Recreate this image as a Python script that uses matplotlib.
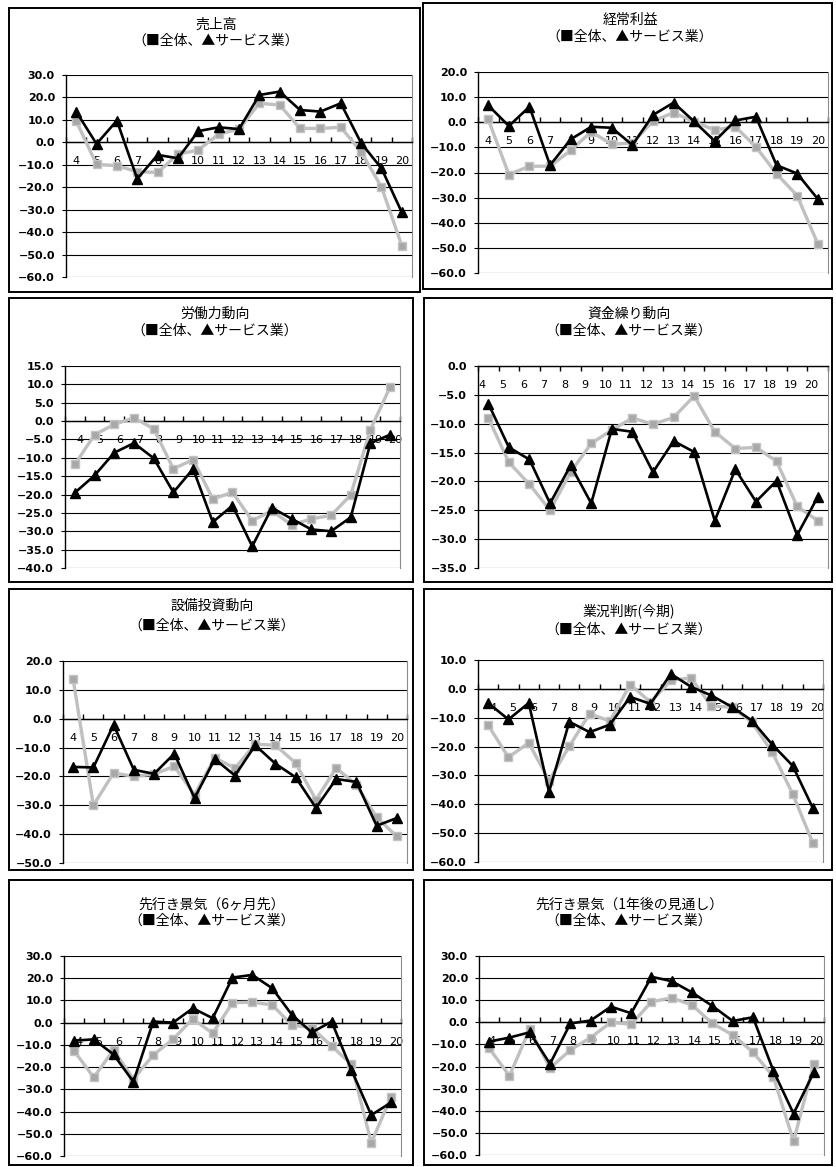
import matplotlib
matplotlib.use("Agg")
import matplotlib.pyplot as plt
import numpy as np
from matplotlib.patches import Rectangle
from matplotlib.ticker import FixedLocator, FuncFormatter

plt.rcParams["font.family"] = ["Noto Sans CJK JP", "DejaVu Sans"]

# ---- data -----------------------------------------------------------------
periods = ["4", "5", "6", "7", "8", "9", "10", "11", "12",
           "13", "14", "15", "16", "17", "18", "19", "20"]

subtitle = "（■全体、▲サービス業）"

sales_total = [9.5, -9.8, -10.4, -13.1, -13.4, -5.3, -3.4, 3.6, 5.9,
               17.4, 16.6, 6.2, 6.2, 6.7, -4.2, -19.9, -46.0]
sales_service = [13.7, -0.7, 9.7, -16.3, -5.6, -7.1, 5.0, 6.7, 5.9,
                 21.1, 22.6, 14.4, 13.7, 17.4, -0.3, -11.6, -31.2]

profit_total = [1.1, -20.8, -17.5, -17.5, -11.2, -3.8, -8.8, -8.2, 0.5,
                3.8, 0.2, -3.1, -1.8, -9.8, -20.5, -29.2, -48.3]
profit_service = [6.7, -1.5, 6.2, -17.1, -6.8, -1.8, -2.2, -9.1, 2.9,
                  7.8, 0.3, -7.5, 0.7, 2.2, -17.1, -20.4, -30.5]

labor_total = [-11.8, -3.7, -0.9, 0.9, -2.1, -13.0, -10.5, -21.2, -19.4,
               -27.1, -24.4, -28.3, -26.6, -25.7, -20.1, -2.3, 9.3]
labor_service = [-19.5, -14.8, -8.6, -6.0, -10.1, -19.4, -13.0, -27.5, -23.0,
                 -34.1, -23.6, -26.6, -29.5, -30.0, -26.2, -6.0, -3.7]

funds_total = [-9.0, -16.7, -20.5, -25.0, -18.4, -13.4, -11.1, -9.0, -10.1,
               -8.9, -5.2, -11.4, -14.3, -14.1, -16.5, -24.3, -26.8]
funds_service = [-6.5, -14.1, -16.2, -23.8, -17.2, -23.8, -10.9, -11.4, -18.4,
                 -13.0, -14.9, -26.8, -17.9, -23.5, -19.9, -29.3, -22.7]

capex_total = [13.7, -30.0, -18.8, -20.0, -19.2, -16.5, -26.3, -13.6, -17.1,
               -8.8, -9.2, -15.4, -28.1, -17.1, -22.9, -34.2, -40.8]
capex_service = [-16.7, -16.9, -2.1, -17.7, -19.1, -12.1, -27.5, -14.0, -19.7,
                 -9.2, -15.6, -20.3, -30.9, -20.9, -21.9, -37.1, -34.4]

current_total = [-12.6, -23.7, -18.7, -31.8, -19.9, -8.6, -11.2, 1.5, -4.6,
                 2.9, 3.8, -6.0, -6.3, -11.6, -22.0, -36.3, -53.4]
current_service = [-4.9, -10.6, -4.9, -35.7, -11.4, -15.0, -12.4, -2.8, -5.2,
                   5.2, 0.7, -2.3, -6.2, -11.0, -19.3, -26.6, -41.3]

outlook6_total = [-12.6, -24.6, -12.3, -25.4, -14.6, -7.4, 1.7, -4.8, 9.0,
                  9.2, 8.0, -1.1, -2.3, -10.5, -18.8, -54.1, -33.3]
outlook6_service = [-8.1, -7.5, -14.3, -26.6, 0.5, 0.0, 6.5, 2.0, 20.3,
                    21.5, 15.5, 3.5, -4.4, 0.5, -21.3, -41.6, -35.9]

outlook12_total = [-11.7, -24.2, -3.0, -20.7, -12.5, -6.9, 0.0, -0.9, 9.3,
                   11.1, 7.8, -0.5, -5.7, -13.5, -24.5, -53.8, -18.8]
outlook12_service = [-8.7, -6.9, -4.5, -18.8, -0.5, 0.8, 7.1, 4.1, 20.6,
                     18.6, 13.5, 7.4, 0.6, 2.3, -21.8, -41.3, -22.5]

titles = ["売上高", "経常利益", "労働力動向", "資金繰り動向",
          "設備投資動向", "業況判断(今期)", "先行き景気（6ヶ月先）",
          "先行き景気（1年後の見通し）"]

series = [(sales_total, sales_service), (profit_total, profit_service),
          (labor_total, labor_service), (funds_total, funds_service),
          (capex_total, capex_service), (current_total, current_service),
          (outlook6_total, outlook6_service),
          (outlook12_total, outlook12_service)]

value_ranges = [(-60, 30, 10), (-60, 20, 10), (-40, 15, 5), (-35, 0, 5),
                (-50, 20, 10), (-60, 10, 10), (-60, 30, 10), (-60, 30, 10)]

# ---- layout (pixels, origin top-left) -------------------------------------
W, H = 837, 1167
frames = [(9, 8, 420, 292), (423, 3, 832, 289),
          (9, 298, 413, 582), (424, 298, 832, 582),
          (9, 589, 413, 870), (424, 589, 832, 870),
          (9, 880, 413, 1165), (424, 880, 832, 1165)]
plots = [(66, 75, 412, 277), (478, 72, 828, 273),
         (65, 366, 400, 568), (478, 366, 828, 568),
         (63, 661, 407, 863), (478, 660, 823, 862),
         (64, 956, 401, 1156), (479, 956, 824, 1155)]
title_pos = [(216, 25, 41), (630, 20, 37), (215, 314, 331), (629, 314, 331),
             (212, 606, 626), (629, 611, 630), (212, 905, 921), (629, 905, 921)]
label_shift = [0.0, 0.0, 0.28, -0.3, 0.0, 0.23, 0.25, 0.12]

fig = plt.figure(figsize=(W / 100, H / 100), dpi=100)
fig.patch.set_facecolor("white")


def fx(px):
    return px / W


def fy(py):
    return 1 - py / H


minus_fmt = FuncFormatter(lambda v, p: f"{v:.1f}".replace("-", "\u2212"))

for i in range(8):
    l, t, r, b = frames[i]
    fig.add_artist(Rectangle((fx(l), fy(b)), fx(r - l), (b - t) / H,
                             transform=fig.transFigure, fill=False,
                             edgecolor="black", linewidth=1.4))
    cx, y1, y2 = title_pos[i]
    fig.text(fx(cx), fy(y1), titles[i], ha="center", va="center", fontsize=10)
    fig.text(fx(cx), fy(y2), subtitle, ha="center", va="center", fontsize=10)

    pl, pt, pr, pb = plots[i]
    ax = fig.add_axes([fx(pl), fy(pb), fx(pr - pl), (pb - pt) / H])
    total, service = series[i]
    x = np.arange(len(periods))
    ax.plot(x, total, color="#c0c0c0", linewidth=2.4, marker="s",
            markersize=6.3, markerfacecolor="#a8a8a8",
            markeredgecolor="#c4c4c4", zorder=3, clip_on=False)
    ax.plot(x, service, color="black", linewidth=1.9, marker="^",
            markersize=7.3, markerfacecolor="black", markeredgecolor="black",
            zorder=4, clip_on=False)

    lo, hi, step = value_ranges[i]
    ax.set_xlim(-0.5, len(periods) - 0.5)
    ax.set_ylim(lo, hi)
    ax.set_yticks(np.arange(lo, hi + step / 2, step))
    ax.yaxis.set_major_formatter(minus_fmt)
    ax.grid(axis="y", color="black", linewidth=0.8)
    ax.set_axisbelow(True)

    # category axis crossing at zero
    ax.spines["bottom"].set_position(("data", 0))
    ax.spines["bottom"].set_linewidth(1.0)
    ax.spines["top"].set_visible(False)
    ax.spines["right"].set_color("#8c8c8c")
    ax.spines["left"].set_color("black")
    ax.spines["left"].set_linewidth(1.0)

    ax.xaxis.set_major_locator(FixedLocator(np.arange(-0.5, len(periods), 1)))
    ax.xaxis.set_minor_locator(FixedLocator(x + label_shift[i]))
    ax.set_xticklabels([], minor=False)
    ax.set_xticklabels(periods, minor=True)
    ax.tick_params(axis="x", which="major", direction="out" if hi == 0 else "in",
                   length=3.5, width=1.0, labelbottom=False)
    ax.tick_params(axis="x", which="minor", length=0, pad=10, labelsize=8,
                   labelfontfamily="DejaVu Sans")
    ax.tick_params(axis="y", direction="out", length=3, width=0.8, pad=5,
                   labelsize=8, labelfontfamily="DejaVu Sans")
    for lab in ax.get_yticklabels():
        lab.set_fontweight("bold")

fig.savefig("out.png", dpi=100, facecolor="white")
